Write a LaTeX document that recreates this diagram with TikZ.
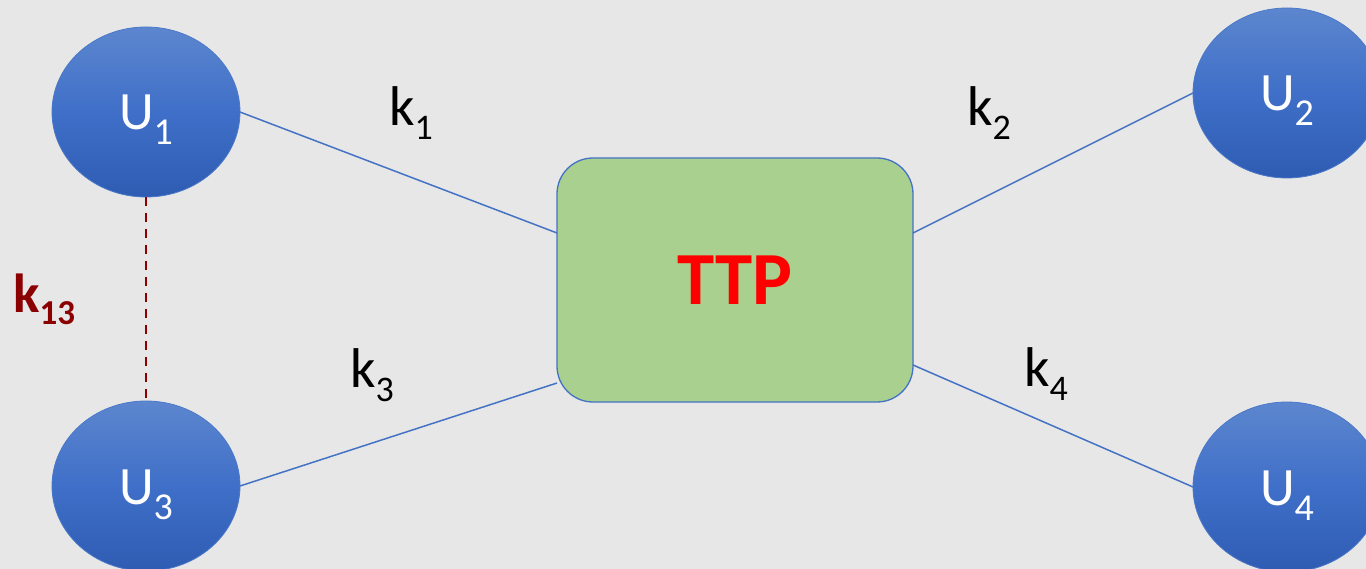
\documentclass[tikz,border=0pt]{standalone}
\usepackage{fontspec}
\setmainfont{Carlito}
\usetikzlibrary{shapes.geometric}

\definecolor{bgcol}{HTML}{E7E7E7}
\definecolor{utop}{HTML}{5C86CE}
\definecolor{umid}{HTML}{3F6FC8}
\definecolor{ubot}{HTML}{2F5CB3}
\definecolor{uedge}{HTML}{4A78C8}
\definecolor{linkblue}{HTML}{4472C4}
\definecolor{ttpfill}{HTML}{A9D08E}
\definecolor{pairred}{HTML}{8B0000}

% main letter with a lowered index
\newcommand{\symsub}[5]{{\fontsize{#3}{#3}\selectfont #1}\raisebox{-#5}{\fontsize{#4}{#4}\selectfont #2}}

\tikzset{
  user/.style={ellipse, minimum width=188pt, minimum height=170pt, inner sep=0pt, outer sep=0pt,
    top color=utop, bottom color=ubot, middle color=umid, draw=uedge, line width=0.8pt,
    text=white, text height=40pt, text depth=4pt},
  server/.style={rectangle, rounded corners=36pt, minimum width=356pt, minimum height=244pt,
    inner sep=0pt, outer sep=0pt, fill=ttpfill, draw=linkblue, line width=1.3pt,
    text=red, font=\bfseries\fontsize{75}{75}\selectfont},
  link/.style={draw=linkblue, line width=1.5pt},
  pairlink/.style={draw=pairred, line width=2pt, dash pattern=on 9pt off 7pt},
  keylbl/.style={anchor=base west, inner sep=0pt, text=black},
}

\begin{document}
\begin{tikzpicture}[x=1pt, y=-1pt]
  \fill[bgcol] (0,0) rectangle (1366,569);
  \useasboundingbox (0,0) rectangle (1366,569);

  % the trusted third party
  \node[server] (TTP) at (735,280) {TTP};

  % users
  \node[user] (U1) at (146,112) {\symsub{U}{1}{54}{38}{15pt}};
  \node[user] (U3) at (146,486) {\symsub{U}{3}{54}{38}{15pt}};
  \node[user] (U2) at (1287,93) {\symsub{U}{2}{54}{38}{15pt}};
  \node[user] (U4) at (1287,487) {\symsub{U}{4}{54}{38}{15pt}};

  % keys shared with the TTP
  \draw[link] (U1.east) -- ([yshift=47pt]TTP.west);
  \draw[link] (U3.east) -- ([yshift=-103pt]TTP.west);
  \draw[link] (U2.west) -- ([yshift=47pt]TTP.east);
  \draw[link] (U4.west) -- ([yshift=-85pt]TTP.east);

  % key shared between U1 and U3
  \draw[pairlink] (U1.south) -- (U3.north);

  % key labels
  \node[keylbl] (k1) at (389,126) {\symsub{k}{1}{56}{36}{14pt}};
  \node[keylbl] (k2) at (967,126) {\symsub{k}{2}{56}{36}{14pt}};
  \node[keylbl] (k3) at (350,388) {\symsub{k}{3}{56}{36}{14pt}};
  \node[keylbl] (k4) at (1024,386) {\symsub{k}{4}{56}{36}{14pt}};
  \node[keylbl, text=pairred, font=\bfseries] (k13) at (13,313) {\symsub{k}{13}{55}{35}{12pt}};
\end{tikzpicture}
\end{document}
